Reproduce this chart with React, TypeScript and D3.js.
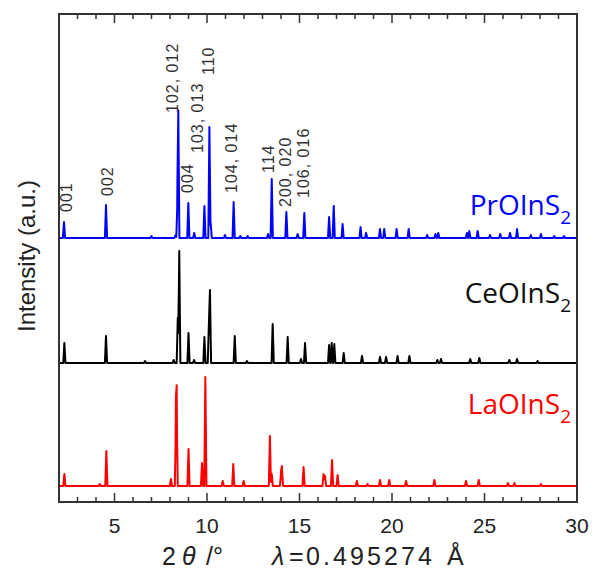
import React from "react";
import * as d3 from "d3";

// ---- data (2θ in degrees, intensity in arbitrary units) ----
const prPeaks: [number, number][] = [
  [2.27, 16], [4.54, 33], [7.0, 2], [8.3, 3], [8.4, 35], [8.45, 122], [8.99, 35], [9.31, 5],
  [9.86, 32], [10.13, 111], [10.2, 15], [10.97, 3], [11.44, 36], [11.8, 2], [12.2, 2], [13.3, 4],
  [13.5, 59], [14.29, 26], [14.9, 4], [15.26, 25], [16.6, 21], [16.85, 32], [17.33, 14],
  [18.3, 11], [18.6, 5], [19.35, 9], [19.58, 9], [20.25, 9], [20.9, 9], [21.9, 3], [22.35, 4],
  [22.5, 5], [24.05, 5], [24.18, 7], [24.63, 7], [25.3, 3], [25.85, 4], [26.38, 5], [26.76, 9],
  [27.5, 3], [28.05, 4], [28.77, 2], [29.3, 2],
];
const cePeaks: [number, number][] = [
  [2.29, 20], [4.54, 27], [6.65, 2], [8.2, 3], [8.42, 45], [8.5, 112], [9.0, 30], [9.3, 3],
  [9.86, 26], [10.1, 38], [10.16, 73], [11.5, 27], [12.16, 2], [13.55, 39], [14.36, 26],
  [15.08, 4], [15.3, 20], [16.6, 18], [16.74, 20], [16.88, 19], [17.39, 10], [18.38, 7],
  [19.35, 6], [19.68, 6], [20.3, 7], [20.94, 7], [22.45, 3], [22.65, 4], [24.23, 4],
  [24.72, 5], [26.34, 3], [26.76, 4], [27.87, 2],
];
const laPeaks: [number, number][] = [
  [2.29, 12], [4.2, 2], [4.56, 35], [8.05, 7], [8.32, 62], [8.36, 80], [9.0, 37], [9.73, 23],
  [9.91, 109], [10.85, 5], [11.42, 22], [11.98, 5], [13.4, 50], [13.5, 12], [14.0, 12],
  [14.05, 18], [15.22, 19], [16.3, 12], [16.38, 10], [16.76, 26], [17.06, 11], [18.1, 5],
  [18.68, 2], [19.35, 6], [19.85, 6], [20.76, 5], [22.29, 6], [24.0, 5], [24.69, 6],
  [26.26, 3], [26.62, 3], [28.05, 2],
];

const seriesNames = ["PrOInS", "CeOInS", "LaOInS"];
const seriesColors = ["#0000ff", "#000000", "#ff0000"];
const seriesOffsets = [264, 139, 16];
const seriesPeaks = [prPeaks, cePeaks, laPeaks];

const hklLabels = ["001", "002", "102, 012", "004", "103, 013", "110", "104, 014", "114", "200, 020", "106, 016"];
const hklAngles = [2.7, 4.92, 8.43, 9.24, 9.78, 10.38, 11.62, 13.62, 14.54, 15.51];
const hklLevels = [26, 42, 125, 45, 85, 163, 45, 65, 31, 40];

const xDomain: [number, number] = [2, 30];
const majorTicks = [5, 10, 15, 20, 25, 30];
const minorTicks = d3.range(3, 30).filter((v) => v % 5 !== 0);

const W = 592, H = 570;
const L = 59, R = 577, T = 14, B = 502;
const HALF = 0.06;

function profile(peaks: [number, number][]): [number, number][] {
  const xs = new Set<number>([xDomain[0], xDomain[1]]);
  peaks.forEach(([p]) => { xs.add(p - HALF); xs.add(p); xs.add(p + HALF); });
  const sorted = Array.from(xs).sort((a, b) => a - b);
  return sorted.map((x) => [x, d3.sum(peaks, ([p, h]) => h * Math.max(0, 1 - Math.abs(x - p) / HALF))]);
}

export default function App() {
  const x = d3.scaleLinear().domain(xDomain).range([L, R]);
  const y = d3.scaleLinear().domain([0, B - T]).range([B, T]);
  const font = "'Liberation Sans', Arial, sans-serif";
  return (
    <svg width={W} height={H} style={{ position: "absolute", left: 0, top: 0, display: "block", background: "#fff" }}>
      {seriesPeaks.map((pk, i) => {
        const line = d3.line<[number, number]>()
          .x((d) => x(d[0]))
          .y((d) => y(d[1] + seriesOffsets[i]));
        return (
          <path key={i} d={line(profile(pk)) || ""} fill="none" stroke={seriesColors[i]}
            strokeWidth={2} strokeLinejoin="round" />
        );
      })}
      {/* frame */}
      <rect x={L} y={T} width={R - L} height={B - T} fill="none" stroke="#333" strokeWidth={2} />
      {majorTicks.map((t) => (
        <g key={"M" + t}>
          <line x1={x(t)} x2={x(t)} y1={B} y2={B - 9} stroke="#333" strokeWidth={1.5} />
          <line x1={x(t)} x2={x(t)} y1={T} y2={T + 9} stroke="#333" strokeWidth={1.5} />
          <text x={x(t)} y={533} textAnchor="middle" fontFamily={font} fontSize={21} fill="#222">{t}</text>
        </g>
      ))}
      {minorTicks.map((t) => (
        <g key={"m" + t}>
          <line x1={x(t)} x2={x(t)} y1={B} y2={B - 5} stroke="#333" strokeWidth={1.5} />
          <line x1={x(t)} x2={x(t)} y1={T} y2={T + 5} stroke="#333" strokeWidth={1.5} />
        </g>
      ))}
      {/* hkl labels */}
      {hklLabels.map((lab, i) => (
        <text key={lab} transform={`translate(${x(hklAngles[i])},${y(seriesOffsets[0] + hklLevels[i])}) rotate(-90)`}
          fontFamily={font} fontSize={16} letterSpacing={1} fill="#333">{lab}</text>
      ))}
      {/* series names */}
      {seriesNames.map((n, i) => (
        <text key={n} x={571} y={[215, 303, 414][i]} textAnchor="end" fontFamily="'Open Sans', sans-serif"
          fontSize={28} fill={seriesColors[i] === "#000000" ? "#111" : seriesColors[i]}>
          {n}<tspan fontSize={19} dy={9}>2</tspan>
        </text>
      ))}
      {/* y title */}
      <text transform="translate(35,256) rotate(-90)" textAnchor="middle" fontFamily={font} fontSize={24} fill="#222">
        Intensity (a.u.)
      </text>
      {/* x title */}
      <g fontFamily={font} fontSize={25} fill="#222">
        <text x={162} y={565}>2</text>
        <text x={182} y={565} fontStyle="italic">θ</text>
        <text x={206} y={565}>/°</text>
        <text x={272} y={565} fontStyle="italic">λ</text>
        <text x={289} y={565}>=</text>
        <text x={306} y={565} textLength={126} lengthAdjust="spacing">0.495274</text>
        <text x={447} y={565}>Å</text>
      </g>
    </svg>
  );
}
